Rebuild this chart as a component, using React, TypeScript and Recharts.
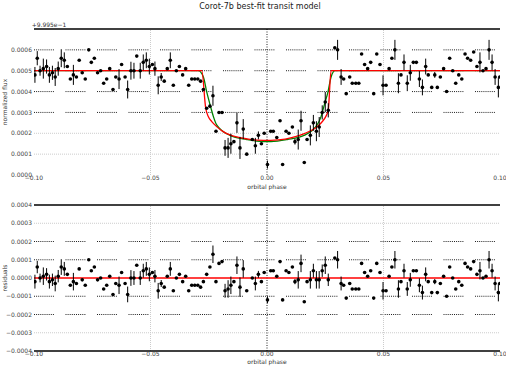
import {
  ComposedChart,
  Scatter,
  Line,
  XAxis,
  YAxis,
  ErrorBar,
  ReferenceLine,
} from 'recharts'

// orbital phase of each light-curve point
const PHASE = [
  -0.0996, -0.0986, -0.0974, -0.0960, -0.0946, -0.0934, -0.0921, -0.0909, -0.0896, -0.0883,
  -0.0870, -0.0857, -0.0844, -0.0831, -0.0818, -0.0806, -0.0793, -0.0780, -0.0765, -0.0754,
  -0.0741, -0.0727, -0.0714, -0.0701, -0.0688, -0.0675, -0.0661, -0.0649, -0.0635, -0.0624,
  -0.0609, -0.0598, -0.0584, -0.0571, -0.0559, -0.0544, -0.0531, -0.0518, -0.0505, -0.0492,
  -0.0481, -0.0467, -0.0454, -0.0441, -0.0428, -0.0415, -0.0402, -0.0389, -0.0376, -0.0362,
  -0.0349, -0.0336, -0.0323, -0.0310, -0.0297, -0.0285, -0.0273, -0.0259, -0.0245, -0.0232,
  -0.0219, -0.0206, -0.0193, -0.0180, -0.0167, -0.0155, -0.0142, -0.0129, -0.0116, -0.0102,
  -0.0087, -0.0063, -0.0050, -0.0037, -0.0024, -0.0012, 0.0002, 0.0016, 0.0027, 0.0042,
  0.0056, 0.0067, 0.0082, 0.0094, 0.0109, 0.0120, 0.0134, 0.0146, 0.0160, 0.0172,
  0.0186, 0.0199, 0.0212, 0.0224, 0.0237, 0.0250, 0.0263, 0.0291, 0.0303, 0.0318,
  0.0329, 0.0340, 0.0355, 0.0366, 0.0381, 0.0394, 0.0406, 0.0419, 0.0432, 0.0445,
  0.0458, 0.0471, 0.0485, 0.0498, 0.0511, 0.0524, 0.0536, 0.0549, 0.0564, 0.0575,
  0.0588, 0.0602, 0.0615, 0.0628, 0.0641, 0.0654, 0.0667, 0.0681, 0.0692, 0.0707,
  0.0720, 0.0731, 0.0744, 0.0758, 0.0771, 0.0784, 0.0797, 0.0810, 0.0823, 0.0836,
  0.0850, 0.0861, 0.0874, 0.0887, 0.0901, 0.0914, 0.0927, 0.0940, 0.0953, 0.0966,
  0.0979, 0.0993, 0.0999,
]

// normalized flux
const FLUX = [
  0.99998, 1.00006, 1.00000, 1.00001, 1.00002, 0.99998, 0.99999, 0.99997, 1.00001, 1.00006,
  1.00005, 1.00002, 0.99996, 0.99998, 0.99997, 1.00005, 0.99999, 0.99996, 1.00010, 1.00004,
  1.00006, 0.99999, 1.00000, 0.99994, 0.99996, 1.00001, 0.99991, 0.99997, 0.99996, 1.00003,
  0.99997, 0.99991, 1.00000, 1.00000, 1.00007, 1.00000, 1.00004, 1.00005, 1.00002, 1.00003,
  1.00001, 0.99993, 0.99997, 0.99995, 1.00001, 1.00005, 0.99993, 1.00000, 1.00002, 0.99998,
  1.00001, 0.99993, 0.99996, 0.99996, 0.99996, 0.99995, 0.99991, 0.99982, 0.99983, 0.99988,
  0.99971, 0.99980, 0.99980, 0.99963, 0.99963, 0.99965, 0.99966, 0.99975, 0.99963, 0.99972,
  0.99960, 0.99967, 0.99964, 0.99969, 0.99965, 0.99970, 0.99955, 0.99971, 0.99971, 0.99968,
  0.99976, 0.99955, 0.99971, 0.99970, 0.99973, 0.99966, 0.99967, 0.99976, 0.99956, 0.99967,
  0.99969, 0.99975, 0.99971, 0.99973, 0.99980, 0.99985, 0.99981, 1.00011, 1.00010, 0.99997,
  0.99996, 0.99989, 0.99997, 0.99994, 0.99994, 0.99994, 1.00008, 1.00003, 1.00001, 1.00004,
  0.99989, 1.00008, 1.00003, 0.99993, 0.99993, 1.00001, 1.00006, 1.00010, 0.99994, 0.99998,
  1.00004, 0.99994, 0.99999, 1.00004, 1.00004, 0.99996, 0.99992, 1.00002, 0.99998, 0.99992,
  0.99998, 0.99992, 0.99997, 1.00001, 0.99990, 1.00006, 1.00000, 0.99994, 0.99998, 0.99996,
  1.00008, 1.00006, 1.00005, 1.00009, 1.00002, 1.00004, 1.00000, 1.00001, 1.00010, 1.00004,
  0.99997, 0.99992, 0.99997,
]

// 1-sigma errors, in units of 1e-5 (0 = no bar drawn)
const ERR_E5 = [
  3.8, 3.4, 2.4, 4.8, 3.4, 3.8, 3.4, 4.3, 3.4, 4.3,
  3.8, 0, 0, 4.8, 0, 0, 0, 0, 0, 0,
  0, 0, 0, 0, 0, 0, 0, 0, 4.8, 0,
  0, 4.3, 4.3, 3.8, 0, 3.8, 3.8, 3.8, 3.8, 0,
  3.4, 4.3, 1.9, 0, 0, 3.8, 0, 0, 0, 0,
  0, 0, 0, 0, 0, 0, 0, 0, 0, 4.8,
  0, 0, 0, 3.8, 4.8, 4.8, 0, 4.8, 5.3, 4.8,
  0, 0, 3.8, 1.9, 0, 0, 1.9, 0, 0, 0,
  0, 0, 0, 0, 0, 1.4, 4.8, 4.8, 0, 0,
  4.8, 3.8, 4.8, 4.8, 3.4, 4.8, 3.4, 0, 4.8, 3.8,
  0, 0, 0, 0, 0, 0, 0, 0, 0, 0,
  0, 0, 0, 4.8, 0, 0, 0, 4.8, 4.8, 0,
  3.8, 3.8, 3.8, 0, 0, 3.8, 3.8, 3.8, 0, 0,
  1.4, 0, 0, 0, 0, 0, 0, 0, 0, 0,
  0, 0, 0, 0, 0, 4.8, 0, 0, 4.8, 3.8,
  3.8, 4.8, 0,
]

// residuals (data - model), in units of 1e-5
const RESID_E5 = [
  -2, 6, 0, 1, 2, -2, -1, -3, 1, 6,
  5, 2, -4, -2, -3, 5, -1, -4, 10, 4,
  6, -1, 0, -6, -4, 1, -9, -3, -4, 3,
  -3, -9, 0, 0, 7, 0, 4, 5, 2, 3,
  1, -7, -3, -5, 1, 5, -7, 0, 2, -2,
  1, -7, -4, -4, -4, -5, -2, 2, 6, 13,
  -2, 8, 9, -7, -6, -4, -2, 7, -5, 5,
  -7, 0, -3, 2, -2, 3, -12, 4, 4, 1,
  9, -12, 4, 3, 6, -2, -1, 8, -13, -2,
  -1, 4, -1, -1, 4, 7, -1, 11, 10, -3,
  -4, -11, -3, -6, -6, -6, 8, 3, 1, 4,
  -11, 8, 3, -7, -7, 1, 6, 10, -6, -2,
  4, -6, -1, 4, 4, -4, -8, 2, -2, -8,
  -2, -8, -3, 1, -10, 6, 0, -6, -2, -4,
  8, 6, 5, 9, 2, 4, 0, 1, 10, 4,
  -3, -8, -3,
]

// best-fit model (red)
const RED_PHASE = [-0.1, -0.028, -0.0263, -0.0252, -0.0237, -0.0216, -0.0188, -0.0159, -0.0116, -0.0073, -0.0016, 0.0016, 0.0049, 0.0106, 0.0163, 0.0206, 0.0235, 0.0252, 0.0263, 0.0275, 0.1]
const RED_FLUX = [1.0, 1.0, 0.99982, 0.99978, 0.999756, 0.999732, 0.999708, 0.999692, 0.999679, 0.999671, 0.999666, 0.999666, 0.999668, 0.999679, 0.9997, 0.999724, 0.999753, 0.99978, 0.999812, 1.0, 1.0]

// alternative model (green)
const GREEN_PHASE = [-0.1, -0.0295, -0.0273, -0.0259, -0.0245, -0.023, -0.0216, -0.0159, -0.0087, -0.0017, 0.0017, 0.0087, 0.0159, 0.0215, 0.0232, 0.0247, 0.0262, 0.0275, 0.0292, 0.1]
const GREEN_FLUX = [1.0, 1.0, 0.99997, 0.9999, 0.99984, 0.99978, 0.99974, 0.99969, 0.99967, 0.99966, 0.99966, 0.99967, 0.99969, 0.99974, 0.99978, 0.99984, 0.9999, 0.99997, 1.0, 1.0]

const X_TICKS = [-0.1, -0.05, 0, 0.05, 0.1]
const FLUX_TICKS = [0.9995, 0.9996, 0.9997, 0.9998, 0.9999, 1.0, 1.0001]
const RESID_TICKS = [-0.0004, -0.0003, -0.0002, -0.0001, 0, 0.0001, 0.0002, 0.0003, 0.0004]
const FLUX_OFFSET = 0.9995

const FONT = '"DejaVu Sans", sans-serif'
const tickStyle = { fontSize: 6, fill: '#444', fontFamily: FONT }

// aliased dotted grid: runs of dots separated by short gaps
const DOT_RUN = Array(9).fill('1 1.1').join(' ') + ' 1 11.6'
const FAINT_DOTS = '1 1'

const minus = (s: string) => s.replace('-', '\u2212')

const points = PHASE.map((p, i) => ({
  phase: p,
  flux: FLUX[i],
  err: ERR_E5[i] * 1e-5,
  resid: RESID_E5[i] * 1e-5,
}))
const redModel = RED_PHASE.map((p, i) => ({ phase: p, flux: RED_FLUX[i] }))
const greenModel = GREEN_PHASE.map((p, i) => ({ phase: p, flux: GREEN_FLUX[i] }))

const Dot = (props: any) => <circle cx={props.cx} cy={props.cy} r={1.8} fill="#000" />

const label = (style: React.CSSProperties, text: string, rotate = false) => (
  <div
    style={{
      position: 'absolute',
      fontFamily: FONT,
      color: '#333',
      whiteSpace: 'nowrap',
      lineHeight: 1,
      transform: `translate(-50%, -50%)${rotate ? ' rotate(-90deg)' : ''}`,
      ...style,
    }}
  >
    {text}
  </div>
)

export default function App() {
  return (
    <div style={{ position: 'absolute', left: 0, top: 0, width: 506, height: 366, background: '#fff' }}>
      {label({ left: 260, top: 7, fontSize: 8, color: '#222' }, 'Corot-7b best-fit transit model')}
      {label({ left: 49, top: 25, fontSize: 6 }, '+9.995e\u22121')}
      {label({ left: 5, top: 102, fontSize: 6 }, 'normalized flux', true)}
      {label({ left: 267, top: 187, fontSize: 6 }, 'orbital phase')}
      {label({ left: 5, top: 278, fontSize: 6 }, 'residuals', true)}
      {label({ left: 267, top: 362, fontSize: 6 }, 'orbital phase')}

      <div style={{ position: 'absolute', left: 0, top: 0 }}>
        <ComposedChart width={506} height={190} margin={{ top: 29, right: 6, bottom: 0, left: 0 }}>
          <XAxis
            type="number"
            dataKey="phase"
            domain={[-0.1, 0.1]}
            ticks={X_TICKS}
            interval={0}
            allowDataOverflow
            axisLine={false}
            tickLine={false}
            tickSize={0}
            tickMargin={1}
            height={15}
            tick={tickStyle}
            tickFormatter={(v: number) => minus(v.toFixed(2))}
          />
          <YAxis
            type="number"
            dataKey="flux"
            domain={[0.9995, 1.0002]}
            ticks={FLUX_TICKS}
            interval={0}
            allowDataOverflow
            axisLine={false}
            tickLine={false}
            tickSize={0}
            tickMargin={2}
            width={34}
            tick={tickStyle}
            tickFormatter={(v: number) => minus((v - FLUX_OFFSET).toFixed(4))}
          />
          <ReferenceLine y={1.0001} stroke="#222" strokeDasharray={DOT_RUN} />
          <ReferenceLine y={1.0} stroke="#222" strokeDasharray={DOT_RUN} />
          <ReferenceLine y={0.9999} stroke="#222" strokeDasharray={DOT_RUN} />
          <ReferenceLine y={0.9998} stroke="#222" strokeDasharray={DOT_RUN} />
          <ReferenceLine y={0.9997} stroke="#ccc" strokeDasharray={FAINT_DOTS} />
          <ReferenceLine y={0.9996} stroke="#ccc" strokeDasharray={FAINT_DOTS} />
          <ReferenceLine x={-0.05} stroke="#ccc" strokeDasharray={FAINT_DOTS} />
          <ReferenceLine x={0.05} stroke="#ccc" strokeDasharray={FAINT_DOTS} />
          <ReferenceLine x={0} stroke="#222" strokeDasharray="1 1.5" />
          <ReferenceLine y={1.0002} stroke="#000" strokeWidth={1.6} />
          <Line
            data={greenModel}
            dataKey="flux"
            type="monotone"
            stroke="#008000"
            strokeWidth={1.3}
            dot={false}
            isAnimationActive={false}
          />
          <Line
            data={redModel}
            dataKey="flux"
            type="monotone"
            stroke="#ff0000"
            strokeWidth={1.3}
            dot={false}
            isAnimationActive={false}
          />
          <Scatter data={points} dataKey="flux" shape={<Dot />} isAnimationActive={false}>
            <ErrorBar dataKey="err" direction="y" width={0} stroke="#000" strokeWidth={1} />
          </Scatter>
        </ComposedChart>
      </div>

      <div style={{ position: 'absolute', left: 0, top: 190 }}>
        <ComposedChart width={506} height={176} margin={{ top: 15, right: 6, bottom: 0, left: 0 }}>
          <XAxis
            type="number"
            dataKey="phase"
            domain={[-0.1, 0.1]}
            ticks={X_TICKS}
            interval={0}
            allowDataOverflow
            axisLine={{ stroke: '#000', strokeWidth: 1.6 }}
            tickLine={false}
            tickSize={0}
            tickMargin={1}
            height={15}
            tick={tickStyle}
            tickFormatter={(v: number) => minus(v.toFixed(2))}
          />
          <YAxis
            type="number"
            dataKey="resid"
            domain={[-0.0004, 0.0004]}
            ticks={RESID_TICKS}
            interval={0}
            allowDataOverflow
            axisLine={false}
            tickLine={false}
            tickSize={0}
            tickMargin={2}
            width={34}
            tick={tickStyle}
            tickFormatter={(v: number) => minus(v.toFixed(4))}
          />
          <ReferenceLine y={0.0003} stroke="#ccc" strokeDasharray={FAINT_DOTS} />
          <ReferenceLine y={0.0002} stroke="#222" strokeDasharray={DOT_RUN} />
          <ReferenceLine y={0.0001} stroke="#222" strokeDasharray={DOT_RUN} />
          <ReferenceLine y={-0.0001} stroke="#222" strokeDasharray={DOT_RUN} />
          <ReferenceLine y={-0.0002} stroke="#222" strokeDasharray={DOT_RUN} />
          <ReferenceLine y={-0.0003} stroke="#ccc" strokeDasharray={FAINT_DOTS} />
          <ReferenceLine x={-0.05} stroke="#ccc" strokeDasharray={FAINT_DOTS} />
          <ReferenceLine x={0.05} stroke="#ccc" strokeDasharray={FAINT_DOTS} />
          <ReferenceLine x={0} stroke="#222" strokeDasharray="1 1.5" />
          <ReferenceLine y={0.0004} stroke="#000" strokeWidth={1.6} />
          <ReferenceLine y={0} stroke="#ff0000" strokeWidth={1.5} />
          <Scatter data={points} dataKey="resid" shape={<Dot />} isAnimationActive={false}>
            <ErrorBar dataKey="err" direction="y" width={0} stroke="#000" strokeWidth={1} />
          </Scatter>
        </ComposedChart>
      </div>
    </div>
  )
}
